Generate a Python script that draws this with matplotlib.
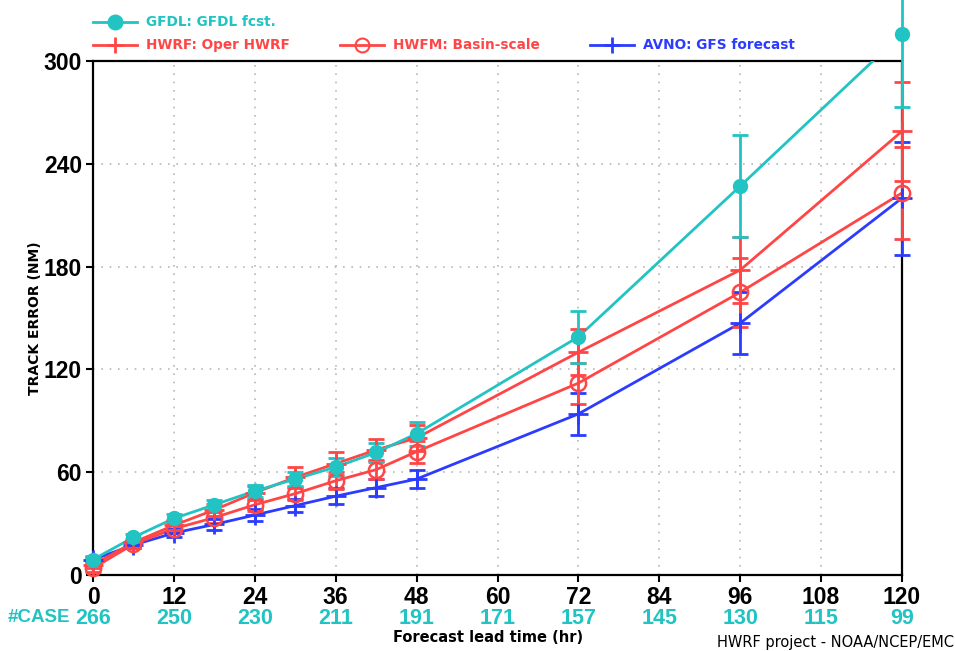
import numpy as np
import matplotlib
matplotlib.use("Agg")
from matplotlib import pyplot as plt
from matplotlib.lines import Line2D

# forecast hours and track errors (NM)
hours = [0, 6, 12, 18, 24, 30, 36, 42, 48, 72, 96, 120]
gfdl = [9, 22, 33, 41, 49, 56, 63, 71.5, 82.5, 139, 227, 316]
gfdl_err = [2, 2, 2.5, 3, 3.5, 4, 5, 5.5, 7, 15, 30, 43]
hwrf = [6, 19, 29, 38, 48, 57, 65, 73, 80, 130, 178, 259]
hwrf_err = [2, 2, 3, 3.5, 4, 6, 6.5, 6.5, 7.5, 13.5, 19, 29]
hwfm = [4, 18, 27, 33.5, 41, 47.5, 55, 61.5, 72, 112, 165, 223]
hwfm_err = [2, 2, 2.5, 3, 3.5, 4, 5, 5.5, 6.5, 12, 20, 27]
avno = [9, 17.5, 24.5, 29.5, 35, 40.5, 46, 51, 56, 94, 147, 220]
avno_err = [1.5, 2, 2.5, 3, 3.5, 4, 4.5, 5, 5, 12, 18, 33]

case_hours = [0, 12, 24, 36, 48, 60, 72, 84, 96, 108, 120]
cases = [266, 250, 230, 211, 191, 171, 157, 145, 130, 115, 99]

CYAN = "#22c3c3"
RED = "#ff4646"
BLUE = "#2c3cff"
sans = ["Liberation Sans", "DejaVu Sans"]

fig = plt.figure(figsize=(9.55, 6.51), dpi=100)
ax = fig.add_axes([93/955, 76/651, 809/955, 514/651])


def series(y, err, col, marker, ms, mfc, mew):
    # line clipped to the box, markers/errorbars allowed to spill over
    ax.plot(hours, y, color=col, lw=2, zorder=3)
    eb = ax.errorbar(hours, y, yerr=err, fmt="none", ecolor=col, elinewidth=2,
                     capsize=6, capthick=2, zorder=4)
    for a in eb.lines[1] + eb.lines[2]:
        a.set_clip_on(False)
    ax.plot(hours, y, ls="none", marker=marker, ms=ms, mfc=mfc, mec=col,
            mew=mew, zorder=5, clip_on=False)


series(avno, avno_err, BLUE, "+", 14, BLUE, 2)
series(hwfm, hwfm_err, RED, "o", 11, "none", 1.8)
series(hwrf, hwrf_err, RED, "+", 14, RED, 2)
series(gfdl, gfdl_err, CYAN, "o", 10, CYAN, 1)

ax.set_xlim(0, 120)
ax.set_ylim(0, 300)
ax.set_xticks(case_hours)
ax.set_yticks([0, 60, 120, 180, 240, 300])
ax.grid(True, color="#b8b8b8", ls=(0, (1, 4)), lw=1.2)
for s in ax.spines.values():
    s.set_linewidth(1.6)
ax.tick_params(direction="out", length=5, width=1.5, pad=3)
for lab in ax.get_xticklabels() + ax.get_yticklabels():
    lab.set_fontfamily(sans)
    lab.set_fontweight("bold")
    lab.set_fontsize(16.5)

ax.set_ylabel("TRACK ERROR (NM)", fontsize=10, fontweight="bold", labelpad=1)

# case counts under the axis
for h, c in zip(case_hours, cases):
    ax.text(h, -0.085, str(c), transform=ax.get_xaxis_transform(), ha="center",
            va="center", color=CYAN, fontsize=15.5, fontweight="bold", family=sans)
fig.text(70/955, 1 - 618/651, "#CASE", color=CYAN, fontsize=13.5,
         fontweight="bold", family=sans, ha="right", va="center")

fig.text(488/955, 1 - 638/651, "Forecast lead time (hr)", fontsize=10.5,
         fontweight="bold", ha="center", va="center")
fig.text(954/955, 1 - 642/651, "HWRF project - NOAA/NCEP/EMC", fontsize=10.5,
         ha="right", va="center")

# legend drawn by hand across the top
legend = [
    (93, 22, CYAN, "o", CYAN, "GFDL: GFDL fcst."),
    (93, 45, RED, "+", RED, "HWRF: Oper HWRF"),
    (340, 45, RED, "o", "none", "HWFM: Basin-scale"),
    (590, 45, BLUE, "+", BLUE, "AVNO: GFS forecast"),
]
for x0, y0, col, mk, mfc, txt in legend:
    yy = 1 - y0/651
    fig.add_artist(Line2D([x0/955, (x0 + 44)/955], [yy, yy], color=col, lw=2))
    fig.add_artist(Line2D([(x0 + 22)/955], [yy], marker=mk,
                          ms=12 if mk == "+" else 10, mfc=mfc,
                          mec=col, mew=2 if mk == "+" else 1.5))
    fig.text((x0 + 53)/955, yy, txt, color=col, fontsize=9.8,
             fontweight="bold", ha="left", va="center")

fig.savefig("out.png", dpi=100)
